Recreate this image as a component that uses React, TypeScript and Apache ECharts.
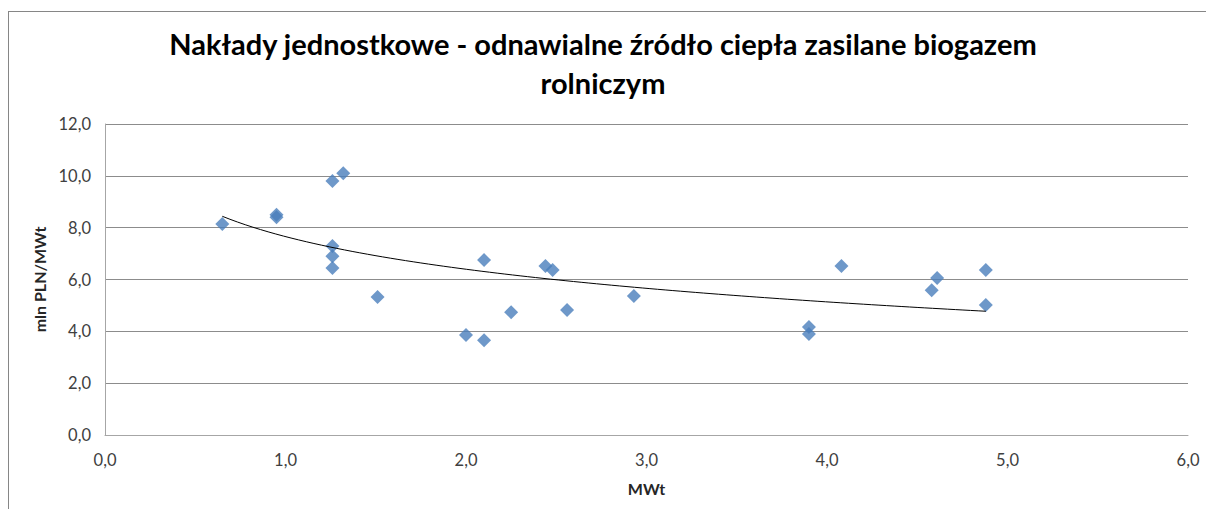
import React, { useEffect, useRef } from "react";
import * as echarts from "echarts";

const title = "Nakłady jednostkowe - odnawialne źródło ciepła zasilane biogazem\nrolniczym";
const xAxisName = "MWt";
const yAxisName = "mln PLN/MWt";

const mwt: number[] = [
  0.65, 0.95, 0.95, 1.26, 1.32, 1.26, 1.26, 1.26, 1.51, 2.0, 2.1, 2.1,
  2.25, 2.44, 2.48, 2.56, 2.93, 3.9, 3.9, 4.08, 4.58, 4.61, 4.88, 4.88,
];
const cost: number[] = [
  8.14, 8.5, 8.4, 9.8, 10.1, 7.29, 6.9, 6.44, 5.32, 3.86, 3.66, 6.75,
  4.74, 6.52, 6.37, 4.82, 5.36, 4.17, 3.9, 6.52, 5.59, 6.06, 6.37, 5.02,
];

// logarithmic trendline (least squares fit of y = a + b ln x), like Excel
function logFit(xs: number[], ys: number[]) {
  const n = xs.length;
  const ls = xs.map((x) => Math.log(x));
  const ml = ls.reduce((s, v) => s + v, 0) / n;
  const my = ys.reduce((s, v) => s + v, 0) / n;
  let sxy = 0;
  let sxx = 0;
  for (let i = 0; i < n; i++) {
    sxy += (ls[i] - ml) * (ys[i] - my);
    sxx += (ls[i] - ml) * (ls[i] - ml);
  }
  const b = sxy / sxx;
  const a = my - b * ml;
  return { a, b };
}

export default function App() {
  const ref = useRef<HTMLDivElement>(null);
  useEffect(() => {
    if (!ref.current) return;
    const chart = echarts.init(ref.current, undefined, { renderer: "svg" });
    const { a, b } = logFit(mwt, cost);
    const xmin = Math.min(...mwt);
    const xmax = Math.max(...mwt);
    const trend: number[][] = [];
    const steps = 100;
    for (let i = 0; i <= steps; i++) {
      const x = xmin + ((xmax - xmin) * i) / steps;
      trend.push([x, a + b * Math.log(x)]);
    }
    const fmt = (v: number) => v.toFixed(1).replace(".", ",");
    const font = "Lato, 'Open Sans', sans-serif";
    chart.setOption({
      animation: false,
      backgroundColor: "#ffffff",
      title: {
        text: title,
        left: 598,
        top: 19,
        textAlign: "center",
        textStyle: {
          fontFamily: font,
          fontWeight: "bold",
          fontSize: 29,
          lineHeight: 39,
          color: "#000000",
        },
      },
      grid: { left: 105, right: 18, top: 124, bottom: 74 },
      xAxis: {
        type: "value",
        min: 0,
        max: 6,
        interval: 1,
        name: xAxisName,
        nameLocation: "middle",
        nameGap: 45,
        nameTextStyle: { fontFamily: font, fontWeight: "bold", fontSize: 16, color: "#262626" },
        axisLine: { show: true, lineStyle: { color: "#a6a6a6", width: 1 } },
        axisTick: { show: false },
        splitLine: { show: false },
        axisLabel: { formatter: fmt, fontFamily: font, fontSize: 16.5, color: "#404040", margin: 16 },
      },
      yAxis: {
        type: "value",
        min: 0,
        max: 12,
        interval: 2,
        name: yAxisName,
        nameLocation: "middle",
        nameGap: 55,
        nameTextStyle: { fontFamily: font, fontWeight: "bold", fontSize: 16, color: "#262626" },
        axisLine: { show: true, lineStyle: { color: "#a6a6a6", width: 1 } },
        axisTick: { show: false },
        splitLine: { show: true, lineStyle: { color: "#8c8c8c", width: 1 } },
        axisLabel: { formatter: fmt, fontFamily: font, fontSize: 16.5, color: "#404040", margin: 14 },
      },
      series: [
        {
          type: "scatter",
          data: mwt.map((x, i) => [x, cost[i]]),
          symbol: "diamond",
          symbolSize: 14,
          itemStyle: { color: "#4a7ebb" },
          z: 3,
        },
        {
          type: "line",
          data: trend,
          showSymbol: false,
          symbol: "none",
          lineStyle: { color: "#000000", width: 1 },
          z: 4,
        },
      ],
    });
    return () => chart.dispose();
  }, []);
  return (
    <div style={{ position: "fixed", left: 0, top: 0, width: 1206, height: 509, background: "#fff" }}>
      <div ref={ref} style={{ position: "absolute", left: 0, top: 0, width: 1206, height: 509 }} />
      <div
        style={{
          position: "absolute",
          left: 8,
          top: 11,
          width: 1300,
          height: 600,
          border: "1px solid #868686",
          pointerEvents: "none",
        }}
      />
    </div>
  );
}
